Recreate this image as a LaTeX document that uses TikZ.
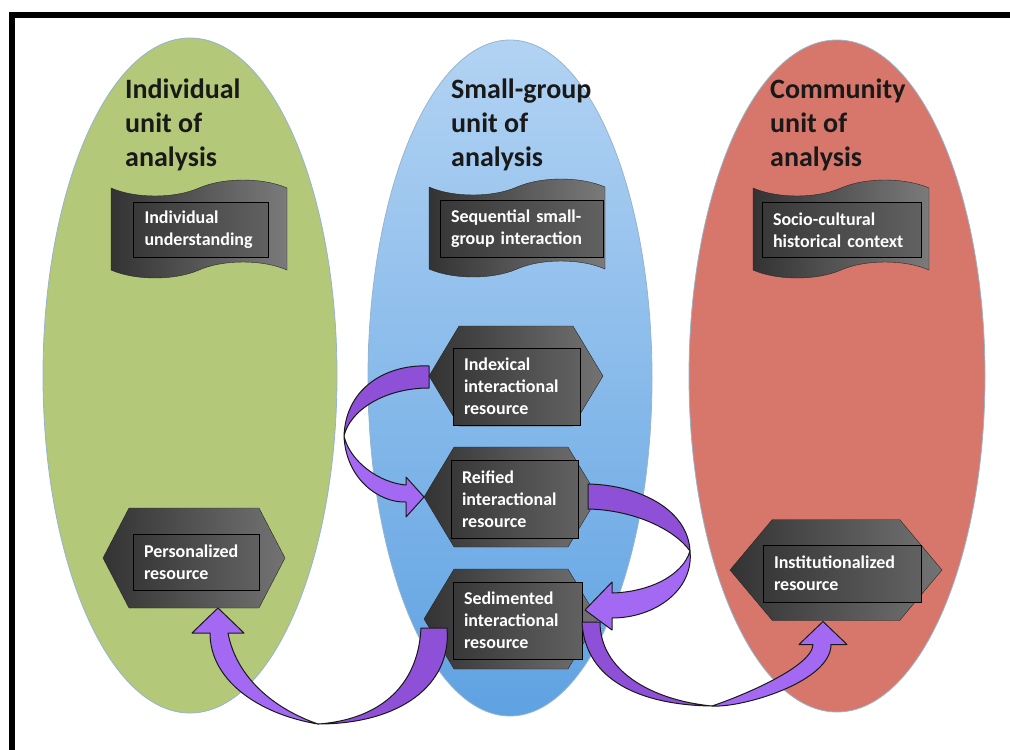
\documentclass[tikz,border=0pt]{standalone}
\usepackage{fontspec}
\setmainfont{Carlito}
\usetikzlibrary{shapes.geometric, shapes.symbols, positioning, calc}

\definecolor{unitgreen}{RGB}{179,200,120}
\definecolor{unitred}{RGB}{215,119,107}
\definecolor{grptop}{RGB}{178,211,243}
\definecolor{grpbottom}{RGB}{95,162,226}
\definecolor{unitedge}{RGB}{150,180,205}
\definecolor{ribbonback}{RGB}{142,80,214}
\definecolor{ribbonfront}{RGB}{163,105,243}

\begin{document}
\begin{tikzpicture}[
            x=1pt, y=-1pt,
            unit/.style     ={ellipse, draw=unitedge, line width=0.8pt, inner sep=0pt, outer sep=0pt},
            unittitle/.style={anchor=north west, inner sep=0pt, align=left, text=black!90,
                              font=\fontsize{28}{34}\selectfont\bfseries},
            tapebox/.style  ={tape, draw=black!85, left color=black!80, right color=black!52,
                              minimum width=176pt, minimum height=98pt, tape bend height=16pt},
            hexbox/.style   ={signal, signal to=east and west, signal pointer angle=118,
                              draw=black!85, left color=black!80, right color=black!55,
                              minimum width=174pt, minimum height=100pt, inner sep=0pt, outer sep=0pt},
            labelbox/.style ={rectangle, draw=black, line width=1pt, left color=black!78, right color=black!62,
                              text=white, align=left, inner xsep=11pt, inner ysep=0pt,
                              font=\fontsize{18}{22}\selectfont\bfseries},
            ribbon/.style   ={draw=black!90, line width=1pt, line join=round}
        ]
        \useasboundingbox (0,0) rectangle (1010,750);

        % units of analysis
        \node[unit, fill=unitgreen, minimum width=294pt, minimum height=675pt] (indunit) at (190,375.5) {};
        \node[unit, top color=grptop, bottom color=grpbottom, minimum width=284pt, minimum height=676pt] (grpunit) at (510,378) {};
        \node[unit, fill=unitred, minimum width=296pt, minimum height=672pt] (comunit) at (837,376) {};

        \draw[line width=6pt] (11.5,750) |- (1010,14.5);

        \node[unittitle] (indtitle) at (125,79) {Individual\\unit of\\analysis};
        \node[unittitle] (grptitle) at (451,79) {Small-group\\unit of\\analysis};
        \node[unittitle] (comtitle) at (770,79) {Community\\unit of\\analysis};

        % contexts
        \node[tapebox] (indtape) at (199,229) {};
        \node[tapebox] (grptape) at (517,228) {};
        \node[tapebox] (comtape) at (841,229) {};
        \node[labelbox, text width=113pt, minimum height=55pt] (indlabel) at ($(indtape.center)+(2,1)$) {Individual\\understanding};
        \node[labelbox, text width=141pt, minimum height=57pt] (grplabel) at ($(grptape.center)+(4.5,0.5)$) {Sequential small-\\group interaction};
        \node[labelbox, text width=137pt, minimum height=55pt] (comlabel) at ($(comtape.center)+(0.5,1)$) {Socio-cultural\\historical context};

        % resources
        \node[hexbox] (idx) at (516,376) {};
        \node[hexbox, below=21pt of idx, xshift=-5pt] (reif) {};
        \node[hexbox, below=22pt of reif] (sed) {};
        \node[hexbox, minimum width=182pt, signal pointer angle=125] (pers) at (194,558) {};
        \node[hexbox, minimum width=212pt, minimum height=101pt, signal pointer angle=100] (inst) at (836,570) {};

        \node[labelbox, text width=105pt, minimum height=77pt] (idxlabel) at ($(idx.center)+(0.5,10.5)$) {Indexical\\interactional\\resource};
        \node[labelbox, text width=105pt, minimum height=78pt] (reiflabel) at ($(reif.center)+(3.5,2)$) {Reified\\interactional\\resource};
        \node[labelbox, text width=107pt, minimum height=77pt] (sedlabel) at ($(sed.center)+(6.5,1.5)$) {Sedimented\\interactional\\resource};
        \node[labelbox, text width=104pt, minimum height=56pt] (perslabel) at ($(pers.center)+(2,4)$) {Personalized\\resource};
        \node[labelbox, text width=136pt, minimum height=57pt] (instlabel) at ($(inst.center)+(6,3.5)$) {Institutionalized\\resource};

        % curved arrows
        \coordinate (idxturn) at (344,436);
        \coordinate (reifturn) at (690,551);
        \coordinate (sedleft) at (318,724);
        \coordinate (sedright) at (712,706);

        \filldraw[ribbon, fill=ribbonback] ($(idx.west)+(0,-10)$) .. controls (390,364) and (346,385) .. (idxturn)
            .. controls (350,410) and (385,388) .. ($(idx.west)+(0,12)$) -- cycle;
        \filldraw[ribbon, fill=ribbonfront] (idxturn) .. controls (346,480) and (380,503) .. ($(reif.west)+(-18,5)$)
            -- ($(reif.west)+(-18,20)$) -- (reif.west) -- ($(reif.west)+(-18,-20)$) -- ($(reif.west)+(-18,-12)$)
            .. controls (380,483) and (350,462) .. (idxturn) -- cycle;

        \filldraw[ribbon, fill=ribbonback] ($(reif.east)+(-10,-13)$) .. controls (640,485) and (688,510) .. (reifturn)
            .. controls (675,530) and (635,510) .. ($(reif.east)+(-10,12)$) -- cycle;
        \filldraw[ribbon, fill=ribbonfront] (reifturn) .. controls (694,590) and (655,618) .. ($(sed.east)+(14,-1)$)
            -- ($(sed.east)+(14,11)$) -- ($(sed.east)+(-13,-9)$) -- ($(sed.east)+(14,-37)$) -- ($(sed.east)+(14,-26)$)
            .. controls (650,592) and (683,575) .. (reifturn) -- cycle;

        \filldraw[ribbon, fill=ribbonback] ($(sed.west)+(-3,9)$) .. controls (418,690) and (375,720) .. (sedleft)
            .. controls (400,724) and (452,685) .. ($(sed.west)+(23,9)$) -- cycle;
        \filldraw[ribbon, fill=ribbonfront] (sedleft) .. controls (258,714) and (210,680) .. ($(pers.south)+(16,25)$)
            -- ($(pers.south)+(-2,25)$) -- ($(pers.south)+(24,0)$) -- ($(pers.south)+(50,25)$) -- ($(pers.south)+(34,25)$)
            .. controls (236,676) and (272,708) .. (sedleft) -- cycle;

        \filldraw[ribbon, fill=ribbonback] ($(sed.east)+(-16,3)$) .. controls (585,680) and (640,705) .. (sedright)
            .. controls (650,700) and (600,670) .. ($(sed.east)+(2,3)$) -- cycle;
        \filldraw[ribbon, fill=ribbonfront] (sedright) .. controls (742,708) and (831,682) .. ($(inst.south)+(-5,24)$)
            -- ($(inst.south)+(11,24)$) -- ($(inst.south)+(-13,1)$) -- ($(inst.south)+(-37,24)$) -- ($(inst.south)+(-23,24)$)
            .. controls (812,668) and (736,698) .. (sedright) -- cycle;
        \end{tikzpicture}
\end{document}
